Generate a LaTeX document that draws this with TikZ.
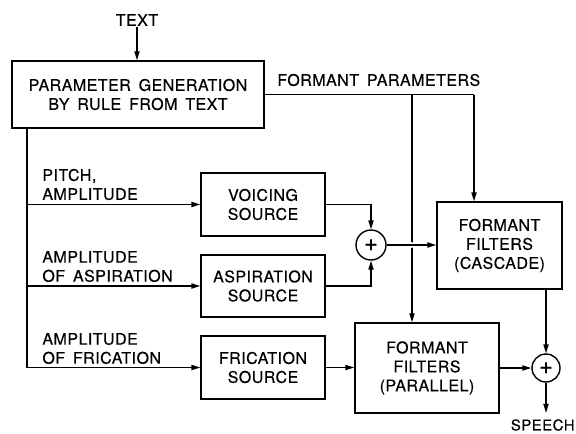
\documentclass[tikz,border=0pt]{standalone}
\usepackage{fontspec}
\usepackage{tikz}
\usetikzlibrary{arrows.meta,positioning,shapes}
\newfontfamily\leroy{TeX Gyre Heros}[LetterSpace=3,WordSpace=1.6,FakeBold=0.4]

\begin{document}
\begin{tikzpicture}[x=0.5pt,y=-0.5pt,
    every node/.style={font=\leroy\fontsize{8}{9.5}\selectfont},
    block/.style={rectangle,draw,line width=0.7pt,align=center,inner sep=0pt},
    adder/.style={circle,draw,line width=0.7pt,minimum size=15pt,inner sep=0pt,font=\leroy\fontsize{12}{12}\selectfont},
    lbl/.style={align=left,anchor=west,inner sep=0pt},
    sig/.style={line width=0.7pt},
    >={Triangle[length=4.5pt,width=2.6pt]}]
      \useasboundingbox (0,0) rectangle (576,433);

      \node[block,minimum width=126pt,minimum height=33.5pt] (param) at (138,94.5) {PARAMETER GENERATION\\BY RULE FROM TEXT};
      \node[block,minimum width=62pt,minimum height=31.5pt] (voicing) at (263,204.5) {VOICING\\SOURCE};
      \node[block,minimum width=62pt,minimum height=31pt] (aspiration) at (263,286) {ASPIRATION\\SOURCE};
      \node[block,minimum width=62pt,minimum height=31.5pt] (frication) at (263,367.5) {FRICATION\\SOURCE};
      \node[block,minimum width=62.5pt,minimum height=43.5pt] (cascade) at (499.5,245.5) {FORMANT\\FILTERS\\(CASCADE)};
      \node[block,minimum width=72pt,minimum height=45pt] (parallel) at (427,368) {FORMANT\\FILTERS\\(PARALLEL)};
      \node[adder] (sum1) at (371,245) {+};
      \node[adder,minimum size=14pt] (sum2) at (546,368) {+};

      \node (txt) at (137,20) {TEXT};
      \node[lbl] (fplbl) at (277,80) {FORMANT PARAMETERS};
      \node[lbl] (pitch) at (42,184.5) {PITCH,\\AMPLITUDE};
      \node[lbl] (asp) at (42,266.5) {AMPLITUDE\\OF ASPIRATION};
      \node[lbl] (fric) at (42,348.5) {AMPLITUDE\\OF FRICATION};
      \node[anchor=east,inner sep=0pt,font=\leroy\fontsize{7.5}{9.5}\selectfont] (speech) at (575,425) {SPEECH};

      \coordinate (bus) at (27,128);
      \coordinate (bfp) at (412,94.5);
      \coordinate (cfp) at (474,94.5);

\draw[sig,->] (txt.south) ++(0,-6) -- (param.north -| txt);  % text in
      \draw[sig] (param.east) -- (cfp);  % formant parameters
      \draw[sig,->] (cfp) -- (cfp |- cascade.north);
      \draw[sig,->] (bfp) -- (bfp |- parallel.north);
      \draw[sig] (param.south -| bus) -- (bus |- frication);  % source parameters
      \draw[sig,->] (bus |- voicing) -- (voicing.west);
      \draw[sig,->] (bus |- aspiration) -- (aspiration.west);
      \draw[sig,->] (bus |- frication) -- (frication.west);
      \draw[sig,->] (voicing) -| (sum1);  % sources into the adder
      \draw[sig,->] (aspiration) -| (sum1);
      \draw[sig,->,preaction={draw=white,line width=3pt,shorten <=8pt,shorten >=8pt}] (sum1) -- (sum1 -| cascade.west);
      \draw[sig,->] (frication) -- (frication -| parallel.west);
      \draw[sig,->] (cascade.south -| sum2) -- (sum2);  % filter outputs
      \draw[sig,->] (parallel) -- (sum2);
      \draw[sig,->] (sum2) -- ([yshift=3pt]sum2 |- speech.north);
    \end{tikzpicture}
\end{document}
